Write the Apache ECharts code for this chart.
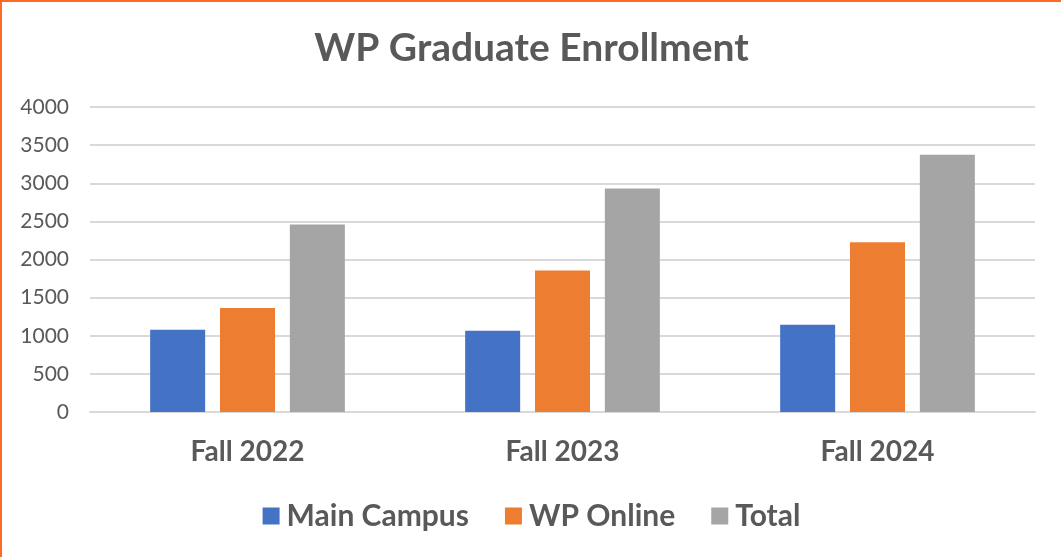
<!DOCTYPE html>
<html lang="en">
<head>
    <meta charset="UTF-8">
    <title>WP Graduate Enrollment</title>
    <style>
        html, body { margin: 0; padding: 0; background: #fff; }
        #chart {
            width: 1059px; height: 555px;
            border-top: 2px solid #FF6A22;
            border-left: 2px solid #FF6A22;
        }
    </style>
</head>
<body>
<div id="chart"></div>
<script src="https://cdn.jsdelivr.net/npm/echarts@6/dist/echarts.min.js"></script>
<script>
// data
var terms = ['Fall 2022', 'Fall 2023', 'Fall 2024'];
var mainCampus = [1080, 1065, 1145];
var wpOnline = [1365, 1855, 2225];
var total = [2460, 2930, 3375];

var textColor = '#595959';
var font = 'Lato';

var chart = echarts.init(document.getElementById('chart'));

function bar(name, data, color) {
    return {
        name: name,
        type: 'bar',
        data: data,
        barWidth: 55,
        barGap: '27%',
        itemStyle: { color: color },
        emphasis: { disabled: true }
    };
}

var option = {
    animation: false,
    title: {
        text: 'WP Graduate Enrollment',
        left: 'center',
        top: 22,
        textStyle: { color: textColor, fontFamily: font, fontWeight: 'bold', fontSize: 39 }
    },
    legend: {
        bottom: 21,
        left: 'center',
        itemWidth: 17,
        itemHeight: 17,
        itemGap: 36,
        icon: 'rect',
        textStyle: { color: textColor, fontFamily: font, fontWeight: 'bold', fontSize: 30, padding: [0, 0, 0, 2] },
        data: ['Main Campus', 'WP Online', 'Total']
    },
    grid: { left: 88, right: 26, top: 105, bottom: 145 },
    xAxis: {
        type: 'category',
        data: terms,
        axisTick: { show: false },
        axisLine: { lineStyle: { color: '#d9d9d9', width: 2 } },
        axisLabel: { color: textColor, fontFamily: font, fontWeight: 'bold', fontSize: 28, margin: 26 }
    },
    yAxis: {
        type: 'value',
        min: 0,
        max: 4000,
        interval: 500,
        axisLine: { show: false },
        axisTick: { show: false },
        axisLabel: {
            color: textColor, fontFamily: font, fontSize: 21, margin: 21,
            formatter: function (v) { return String(v); }
        },
        splitLine: { lineStyle: { color: '#d9d9d9', width: 2 } }
    },
    series: [
        bar('Main Campus', mainCampus, '#4472C4'),
        bar('WP Online', wpOnline, '#ED7D31'),
        bar('Total', total, '#A5A5A5')
    ]
};

chart.setOption(option);
</script>
</body>
</html>
